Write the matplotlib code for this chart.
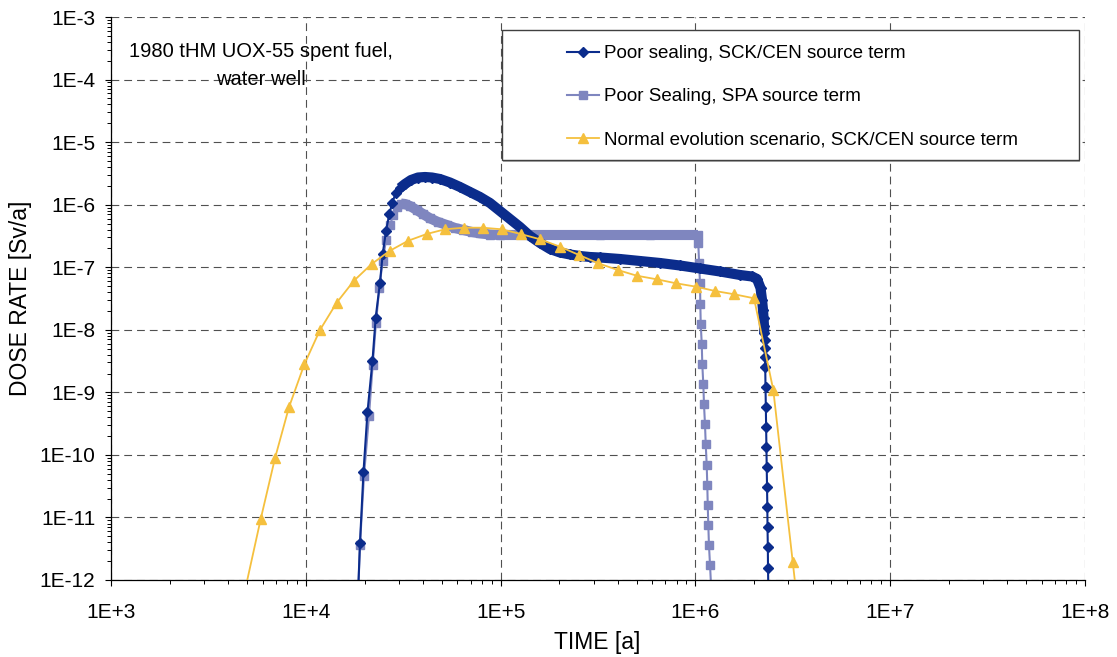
import numpy as np
import matplotlib
matplotlib.use("Agg")
import matplotlib.pyplot as plt
from matplotlib.patches import Rectangle
from matplotlib.lines import Line2D
from matplotlib.ticker import FixedLocator, FixedFormatter, LogLocator, NullFormatter

plt.rcParams['font.family'] = ['Liberation Sans', 'DejaVu Sans']

# ---------------- data ----------------
x_tick_values = [1e3, 1e4, 1e5, 1e6, 1e7, 1e8]
x_tick_labels = ['1E+3', '1E+4', '1E+5', '1E+6', '1E+7', '1E+8']
y_tick_values = [1e-12, 1e-11, 1e-10, 1e-9, 1e-8, 1e-7, 1e-6, 1e-5, 1e-4, 1e-3]
y_tick_labels = ['1E-12', '1E-11', '1E-10', '1E-9', '1E-8', '1E-7', '1E-6', '1E-5', '1E-4', '1E-3']

series_labels = ['Poor sealing, SCK/CEN source term',
                 'Poor Sealing, SPA source term',
                 'Normal evolution scenario, SCK/CEN source term']

x_title = 'TIME [a]'
y_title = 'DOSE RATE [Sv/a]'
note_text = '1980 tHM UOX-55 spent fuel,\nwater well'

# Poor sealing, SCK/CEN source term
t_sck = [18270, 18940, 19740, 20700, 21960, 22800, 23990, 24770, 25760, 26780, 27750, 28880,
         30390, 32250, 34620, 37600, 40860, 44390, 48780, 54910, 61800, 69570, 78300, 88110, 99170,
         111600, 125600, 141400, 159200, 179100, 201600, 226900, 255500, 287500, 323600,
         410100, 519400, 658000, 833500, 1056000, 1338000, 1695000, 1953000, 2072000,
         2160000, 2199000, 2225000, 2238000, 2251000, 2259000, 2267000, 2273000, 2278000, 2284000,
         2291000, 2300000, 2308000, 2316000, 2324000, 2333000, 2341000, 2346000, 2355000, 2360000, 2369000]
d_sck = [2.057e-13, 3.909e-12, 5.333e-11, 4.855e-10, 3.208e-9, 1.561e-8, 5.660e-8, 1.610e-7, 3.795e-7, 7.018e-7, 1.075e-6, 1.520e-6,
         1.847e-6, 2.141e-6, 2.480e-6, 2.719e-6, 2.770e-6, 2.719e-6, 2.573e-6, 2.262e-6, 1.917e-6, 1.595e-6, 1.327e-6, 1.064e-6, 7.925e-7,
         5.904e-7, 4.398e-7, 3.158e-7, 2.440e-7, 1.957e-7, 1.720e-7, 1.598e-7, 1.512e-7, 1.457e-7, 1.431e-7,
         1.354e-7, 1.258e-7, 1.169e-7, 1.066e-7, 9.548e-8, 8.548e-8, 7.516e-8, 7.112e-8, 6.486e-8,
         4.658e-8, 2.995e-8, 2.072e-8, 1.544e-8, 1.150e-8, 8.887e-9, 6.871e-9, 5.117e-9, 3.675e-9, 2.543e-9,
         1.218e-9, 5.834e-10, 2.795e-10, 1.339e-10, 6.411e-11, 3.071e-11, 1.471e-11, 7.044e-12, 3.374e-12, 1.557e-12, 7.458e-13]

# Poor Sealing, SPA source term
t_spa = [18270, 18940, 19860, 21070, 22010, 22880, 23790, 24770, 25760, 27000, 28080, 29330,
         30750, 32250, 34210, 37030, 39900, 43350, 47640, 52800, 58250, 64270, 71210, 78300, 88110, 99170,
         141400, 323600, 584800, 1031000,
         1035000, 1044000, 1056000, 1060000, 1065000, 1078000, 1085000, 1098000, 1107000, 1120000,
         1130000, 1143000, 1151000, 1157000, 1165000, 1174000, 1189000, 1203000]
d_spa = [1.842e-13, 3.633e-12, 4.654e-11, 4.237e-10, 2.737e-9, 1.299e-8, 4.607e-8, 1.258e-7, 2.725e-7, 4.682e-7, 6.839e-7, 9.182e-7,
         1.044e-6, 1.025e-6, 9.526e-7, 8.222e-7, 7.096e-7, 6.058e-7, 5.286e-7, 4.734e-7, 4.239e-7, 3.938e-7, 3.659e-7, 3.487e-7, 3.336e-7, 3.275e-7,
         3.275e-7, 3.275e-7, 3.275e-7, 3.275e-7,
         2.440e-7, 1.182e-7, 5.537e-8, 2.584e-8, 1.238e-8, 5.929e-9, 2.809e-9, 1.345e-9, 6.443e-10, 3.086e-10,
         1.478e-10, 6.902e-11, 3.305e-11, 1.583e-11, 7.499e-12, 3.593e-12, 1.720e-12, 8.239e-13]

# Normal evolution scenario, SCK/CEN source term
t_norm = [4804, 5852, 6931, 8178, 9802, 11800, 14380, 17640, 21750, 27000, 33530, 41690, 51740, 64800,
          80850, 101200, 126700, 159200, 201600, 252500, 317200, 399000, 499500, 632700, 795100,
          1007000, 1261000, 1584000, 2000000, 2512000, 3160000, 3972000]
d_norm = [5.767e-13, 9.352e-12, 8.830e-11, 5.770e-10, 2.788e-9, 9.927e-9, 2.712e-8, 6.096e-8, 1.127e-7, 1.838e-7,
          2.656e-7, 3.398e-7, 4.041e-7, 4.285e-7, 4.285e-7, 4.041e-7, 3.398e-7, 2.796e-7, 2.130e-7, 1.569e-7,
          1.156e-7, 9.035e-8, 7.324e-8, 6.416e-8, 5.537e-8, 4.887e-8, 4.171e-8, 3.693e-8, 3.188e-8,
          1.091e-9, 1.965e-12, 3.589e-15]

# ---------------- style ----------------
c_sck = '#0B2C8C'
c_spa = '#7F86BF'
c_norm = '#F5C03E'
grid_c = '#505050'

ms_sck, ms_spa, ms_norm = 5.4, 5.6, 7.6
band_w = 7.3

fig = plt.figure(figsize=(11.17, 6.57), dpi=100)
ax = fig.add_axes([0.0996, 0.1172, 0.9712 - 0.0996, 0.9741 - 0.1172])
ax.set_xscale('log')
ax.set_yscale('log')
ax.set_xlim(1e3, 1e8)
ax.set_ylim(1e-12, 1e-3)

t_sck_a, d_sck_a = np.array(t_sck, float), np.array(d_sck, float)
t_spa_a, d_spa_a = np.array(t_spa, float), np.array(d_spa, float)

# where the original markers are packed so densely they merge into a band
m_sck = (t_sck_a >= 30000) & (t_sck_a <= 2259000)
m_spa = (t_spa_a >= 30000) & (t_spa_a <= 1031000)

# SPA series (bottom)
ax.plot(t_spa_a[m_spa], d_spa_a[m_spa], color=c_spa, lw=band_w, solid_capstyle='butt',
        solid_joinstyle='round', zorder=2)
ax.plot(t_spa_a, d_spa_a, color=c_spa, lw=1.5, marker='s', ms=ms_spa, mec=c_spa, mfc=c_spa, zorder=2.1)

# SCK series
ax.plot(t_sck_a[m_sck], d_sck_a[m_sck], color=c_sck, lw=band_w, solid_capstyle='butt',
        solid_joinstyle='round', zorder=3)
ax.plot(t_sck_a, d_sck_a, color=c_sck, lw=1.5, marker='D', ms=ms_sck, mec=c_sck, mfc=c_sck, zorder=3.1)

# Normal evolution (top)
ax.plot(t_norm, d_norm, color=c_norm, lw=1.3, marker='^', ms=ms_norm, mec=c_norm, mfc=c_norm, zorder=4)

# ticks
ax.xaxis.set_major_locator(FixedLocator(x_tick_values))
ax.xaxis.set_major_formatter(FixedFormatter(x_tick_labels))
ax.yaxis.set_major_locator(FixedLocator(y_tick_values))
ax.yaxis.set_major_formatter(FixedFormatter(y_tick_labels))
ax.xaxis.set_minor_locator(LogLocator(base=10, subs=np.arange(2, 10), numticks=100))
ax.yaxis.set_minor_locator(LogLocator(base=10, subs=np.arange(2, 10), numticks=100))
ax.xaxis.set_minor_formatter(NullFormatter())
ax.yaxis.set_minor_formatter(NullFormatter())
ax.tick_params(axis='both', which='major', direction='out', length=4.5, width=0.8,
               labelsize=15, colors='black')
ax.tick_params(axis='both', which='minor', direction='out', length=3.0, width=0.7)
ax.tick_params(axis='x', which='major', pad=12)
ax.tick_params(axis='y', which='major', pad=7)

for s in ['top', 'right']:
    ax.spines[s].set_visible(False)
for s in ['left', 'bottom']:
    ax.spines[s].set_linewidth(0.9)
    ax.spines[s].set_color('black')

ax.grid(True, which='major', color=grid_c, lw=0.8, linestyle=(0, (7, 4.5)))
ax.set_axisbelow(True)

# axis titles
fig.text(597 / 1117, 1 - 643 / 657, x_title, ha='center', va='center', fontsize=16.5)
fig.text(21 / 1117, 1 - 298 / 657, y_title, ha='center', va='center', rotation=90, fontsize=16.5)

# note
ax.text(0.1538, 0.914, note_text, transform=ax.transAxes, ha='center', va='center',
        fontsize=14.5, linespacing=1.62, zorder=6)

# legend box
x0, x1 = 0.4013, 0.9940
y0, y1 = 0.7460, 0.9769
ax.add_patch(Rectangle((x0 + 0.0015, y0 - 0.003), x1 - x0, y1 - y0, transform=ax.transAxes,
                       facecolor='#b0b0b0', edgecolor='none', zorder=6.5, clip_on=False))
ax.add_patch(Rectangle((x0, y0), x1 - x0, y1 - y0, transform=ax.transAxes,
                       facecolor='white', edgecolor='#404040', lw=1.0, zorder=7, clip_on=False))

handles = [Line2D([], [], color=c_sck, lw=1.5, marker='D', ms=ms_sck),
           Line2D([], [], color=c_spa, lw=1.5, marker='s', ms=ms_spa),
           Line2D([], [], color=c_norm, lw=1.3, marker='^', ms=ms_norm)]
leg = ax.legend(handles, series_labels, loc='upper left', bbox_to_anchor=(0.4681, 0.9500),
                frameon=False, fontsize=13.5, borderpad=0, borderaxespad=0,
                handlelength=1.7, handletextpad=0.3, labelspacing=1.38, numpoints=1)
leg.set_zorder(8)

fig.savefig('out.png', dpi=100)
